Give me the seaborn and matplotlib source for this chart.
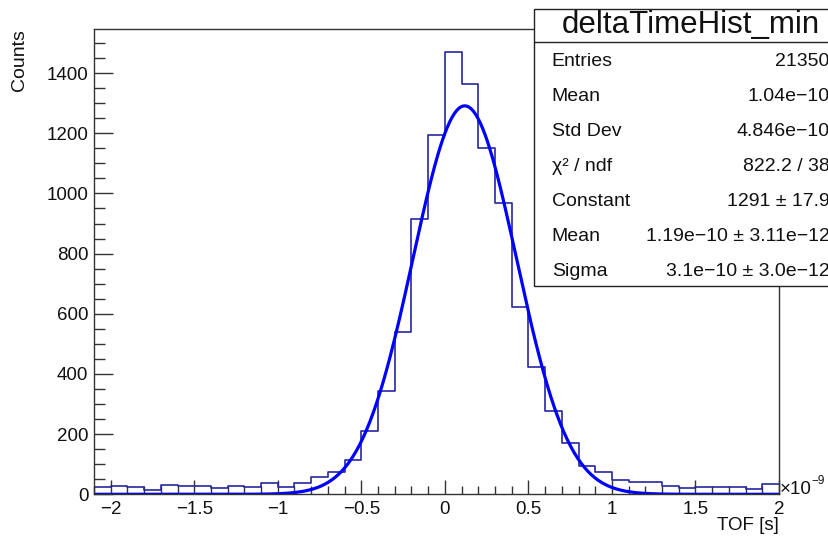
import numpy as np
import pandas as pd
import matplotlib
matplotlib.use("Agg")
import matplotlib.pyplot as plt
from matplotlib.patches import Rectangle
from matplotlib.lines import Line2D
from matplotlib.ticker import MultipleLocator
import seaborn as sns

# ---- data (TOF in units of 1e-9 s) ----
bin_lo = -2.1
bin_hi = 2.0
n_bins = 41
counts = [23, 29, 25, 14, 32, 29, 29, 20, 28, 25, 37,
          23, 37, 57, 75, 114, 211, 342, 541, 916, 1195,
          1470, 1363, 1151, 968, 624, 422, 278, 170, 95, 73,
          49, 42, 42, 28, 21, 25, 25, 25, 17, 35]
fit_const = 1291.0
fit_mean = 0.119
fit_sigma = 0.31
stat_names = ["Entries", "Mean", "Std Dev", "χ² / ndf", "Constant", "Mean", "Sigma"]
stat_values = ["21350", "1.04e\u221210", "4.846e\u221210", "822.2 / 38",
               "1291 ± 17.9", "1.19e\u221210 ± 3.11e\u221212", "3.1e\u221210 ± 3.0e\u221212"]
hist_title = "deltaTimeHist_min"
x_ticks = [-2, -1.5, -1, -0.5, 0, 0.5, 1, 1.5, 2]
y_ticks = [0, 200, 400, 600, 800, 1000, 1200, 1400]

edges = np.linspace(bin_lo, bin_hi, n_bins + 1)
centers = 0.5 * (edges[:-1] + edges[1:])
df = pd.DataFrame({"tof": centers, "counts": counts})

xs = np.linspace(bin_lo, bin_hi, 600)
fit_df = pd.DataFrame({"tof": xs,
                       "fit": fit_const * np.exp(-0.5 * ((xs - fit_mean) / fit_sigma) ** 2)})

sns.set_theme(style="white")
plt.rcParams["font.family"] = ["Liberation Sans", "DejaVu Sans"]

W, H = 829, 538
fig = plt.figure(figsize=(W / 100, H / 100), dpi=100)
ax = fig.add_axes([94 / W, (H - 494.3) / H, (779 - 94) / W, (494.3 - 29) / H])

sns.histplot(data=df, x="tof", weights="counts", bins=n_bins, binrange=(bin_lo, bin_hi),
             element="step", fill=False, color="#2626a0", linewidth=1.2, ax=ax)
sns.lineplot(data=fit_df, x="tof", y="fit", color="#0000ff", linewidth=2.3, ax=ax)

ax.set_xlim(bin_lo, bin_hi)
ax.set_ylim(0, max(counts) * 1.052)
ax.set_xticks(x_ticks)
ax.set_xticklabels([("%g" % t).replace("-", "\u2212") for t in x_ticks])
ax.set_yticks(y_ticks)
ax.xaxis.set_minor_locator(MultipleLocator(0.1))
ax.yaxis.set_minor_locator(MultipleLocator(50))
ax.tick_params(axis="x", which="major", direction="in", length=10, width=1,
               labelsize=13.5, pad=4.5, top=False, bottom=True, color="#333333",
               labelcolor="#111111")
ax.tick_params(axis="x", which="minor", direction="in", length=5.5, width=1,
               top=False, bottom=True, color="#333333")
ax.tick_params(axis="y", which="major", direction="in", length=14, width=1,
               labelsize=13.5, pad=4, left=True, right=False, color="#333333",
               labelcolor="#111111")
ax.tick_params(axis="y", which="minor", direction="in", length=8, width=1,
               left=True, right=False, color="#333333")
for s in ax.spines.values():
    s.set_color("#333333")
    s.set_linewidth(1.0)
ax.set_xlabel("")
ax.set_ylabel("")
ax.grid(False)

# axis titles (ROOT style, at the end of the axes)
fig.text(779 / W, 1 - 525 / H, "TOF [s]", ha="right", va="center", fontsize=13.5, color="#111111")
fig.text(20 / W, 1 - 29 / H, "Counts", ha="center", va="top", rotation=90, fontsize=14, color="#111111")
fig.text(780 / W, 1 - 489 / H, "\u00d710", ha="left", va="center", fontsize=13.5, color="#111111")
fig.text(811 / W, 1 - 481 / H, "\u22129", ha="left", va="center", fontsize=8.5, color="#111111")

# stats box
box_l, box_t, box_b, box_r = 534, 9.3, 286, 845
fig.patches.append(Rectangle((box_l / W, 1 - box_b / H), (box_r - box_l) / W,
                             (box_b - box_t) / H, transform=fig.transFigure,
                             facecolor="white", edgecolor="#222222", linewidth=1.0,
                             zorder=10))
fig.lines.append(Line2D([box_l / W, box_r / W], [1 - 41.7 / H, 1 - 41.7 / H],
                        transform=fig.transFigure, color="#222222", linewidth=1.0, zorder=11))
fig.text(691 / W, 1 - 25 / H, hist_title, ha="center", va="center", fontsize=22.5,
         color="#111111", zorder=12)
for i, (nm, val) in enumerate(zip(stat_names, stat_values)):
    yy = 1 - (61.7 + 35 * i) / H
    fig.text(551.7 / W, yy, nm, ha="left", va="center", fontsize=14, color="#111111", zorder=12)
    fig.text(829.5 / W, yy, val, ha="right", va="center", fontsize=14, color="#111111", zorder=12)

fig.savefig("out.png", dpi=100)
